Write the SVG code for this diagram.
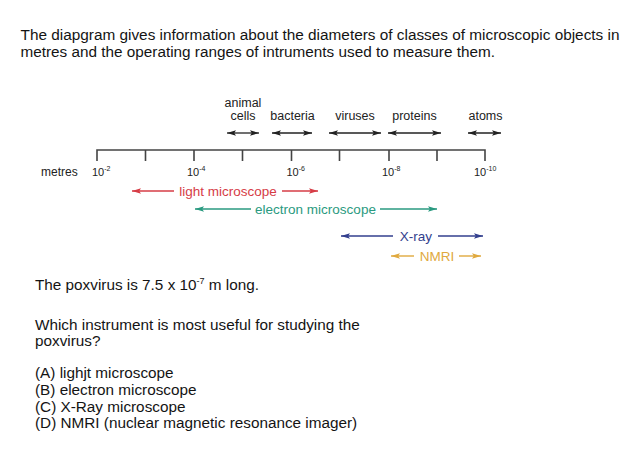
<svg xmlns="http://www.w3.org/2000/svg" width="640" height="457" viewBox="0 0 640 457">
<style>
  .body { font-family: "Liberation Sans", Arial, sans-serif; font-size: 15.3px; fill: #141414; }
  .lbl { font-family: "Liberation Sans", Arial, sans-serif; font-size: 12.5px; fill: #222; text-anchor: middle; }
  .ax { font-family: "Liberation Sans", Arial, sans-serif; font-size: 11px; fill: #222; }
  .sup { font-size: 7px; }
  .inst { font-family: "Liberation Sans", Arial, sans-serif; font-size: 13.5px; text-anchor: middle; }
  .axis { stroke: #444; stroke-width: 1.6; fill: none; }
  .obj { stroke: #222; stroke-width: 1.3; marker-start: url(#ahK); marker-end: url(#ahK); }
  .red { stroke: #d63c46; stroke-width: 1.4; }
  .grn { stroke: #2a9a80; stroke-width: 1.4; }
  .nav { stroke: #333f8e; stroke-width: 1.4; }
  .org { stroke: #e0a93e; stroke-width: 1.4; }
</style>
<defs>
  <marker id="ahK" viewBox="0 0 10 6" refX="10" refY="3" markerWidth="9" markerHeight="5.4" markerUnits="userSpaceOnUse" orient="auto-start-reverse"><path d="M0,0 L10,3 L0,6 L2,3 Z" fill="#222"/></marker>
  <marker id="ahR" viewBox="0 0 10 6" refX="10" refY="3" markerWidth="10" markerHeight="5.4" markerUnits="userSpaceOnUse" orient="auto-start-reverse"><path d="M0,0 L10,3 L0,6 L2,3 Z" fill="#d63c46"/></marker>
  <marker id="ahG" viewBox="0 0 10 6" refX="10" refY="3" markerWidth="10" markerHeight="5.4" markerUnits="userSpaceOnUse" orient="auto-start-reverse"><path d="M0,0 L10,3 L0,6 L2,3 Z" fill="#2a9a80"/></marker>
  <marker id="ahN" viewBox="0 0 10 6" refX="10" refY="3" markerWidth="10" markerHeight="5.4" markerUnits="userSpaceOnUse" orient="auto-start-reverse"><path d="M0,0 L10,3 L0,6 L2,3 Z" fill="#333f8e"/></marker>
  <marker id="ahO" viewBox="0 0 10 6" refX="10" refY="3" markerWidth="10" markerHeight="5.4" markerUnits="userSpaceOnUse" orient="auto-start-reverse"><path d="M0,0 L10,3 L0,6 L2,3 Z" fill="#e0a93e"/></marker>
</defs>
<rect width="640" height="457" fill="#ffffff"/>

<g id="heading" class="body">
  <text x="20.5" y="40" textLength="599" lengthAdjust="spacingAndGlyphs">The diapgram gives information about the diameters of classes of microscopic objects in</text>
  <text x="20.5" y="57">metres and the operating ranges of intruments used to measure them.</text>
</g>

<g id="axis">
  <path class="axis" d="M97,161 V150 H485 V161 M145.5,150 V161 M194,150 V161 M242.5,150 V161 M291.5,150 V161 M339.5,150 V161 M389,150 V161 M437,150 V161"/>
  <text class="ax" x="41" y="176" style="font-size:12px">metres</text>
  <text class="ax" x="92" y="176">10<tspan class="sup" dy="-5">-2</tspan></text>
  <text class="ax" x="187" y="176">10<tspan class="sup" dy="-5">-4</tspan></text>
  <text class="ax" x="286.5" y="176">10<tspan class="sup" dy="-5">-6</tspan></text>
  <text class="ax" x="382" y="176">10<tspan class="sup" dy="-5">-8</tspan></text>
  <text class="ax" x="474" y="176">10<tspan class="sup" dy="-5">-10</tspan></text>
</g>

<g id="animal-cells">
  <text class="lbl" x="243" y="107">animal</text>
  <text class="lbl" x="243" y="120">cells</text>
</g>
<g id="bacteria"><text class="lbl" x="292.5" y="120">bacteria</text></g>
<g id="viruses"><text class="lbl" x="355" y="120">viruses</text></g>
<g id="proteins"><text class="lbl" x="414.5" y="120">proteins</text></g>
<g id="atoms"><text class="lbl" x="485.5" y="120">atoms</text></g>

<g id="light-microscope"><text class="inst" x="228" y="195.5" fill="#d63c46">light microscope</text></g>
<g id="electron-microscope"><text class="inst" x="315.5" y="213.5" fill="#2a9a80">electron microscope</text></g>
<g id="x-ray"><text class="inst" x="416" y="240.5" fill="#333f8e">X-ray</text></g>
<g id="nmri"><text class="inst" x="437" y="260.5" fill="#e0a93e">NMRI</text></g>

<g id="connectors">
  <line class="obj" x1="227" y1="133" x2="259" y2="133"/>
  <line class="obj" x1="272" y1="133" x2="312" y2="133"/>
  <line class="obj" x1="329" y1="133" x2="381" y2="133"/>
  <line class="obj" x1="388" y1="133" x2="441" y2="133"/>
  <line class="obj" x1="468" y1="133" x2="501" y2="133"/>

  <line class="red" x1="132" y1="191" x2="174" y2="191" marker-start="url(#ahR)"/>
  <line class="red" x1="282" y1="191" x2="318" y2="191" marker-end="url(#ahR)"/>
  <line class="grn" x1="195" y1="209" x2="251" y2="209" marker-start="url(#ahG)"/>
  <line class="grn" x1="380" y1="209" x2="437" y2="209" marker-end="url(#ahG)"/>
  <line class="nav" x1="341" y1="236" x2="393" y2="236" marker-start="url(#ahN)"/>
  <line class="nav" x1="438" y1="236" x2="483" y2="236" marker-end="url(#ahN)"/>
  <line class="org" x1="391" y1="256" x2="414" y2="256" marker-start="url(#ahO)"/>
  <line class="org" x1="459" y1="256" x2="481" y2="256" marker-end="url(#ahO)"/>
</g>

<g id="question" class="body">
  <text x="35" y="290">The poxvirus is 7.5 x 10<tspan style="font-size:9px" dy="-6">-7</tspan><tspan dy="6"> m long.</tspan></text>
  <text x="35" y="330">Which instrument is most useful for studying the</text>
  <text x="35" y="346">poxvirus?</text>
  <text x="35" y="378">(A) lighjt microscope</text>
  <text x="35" y="395">(B) electron microscope</text>
  <text x="35" y="412">(C) X-Ray microscope</text>
  <text x="35" y="428">(D) NMRI (nuclear magnetic resonance imager)</text>
</g>
</svg>
